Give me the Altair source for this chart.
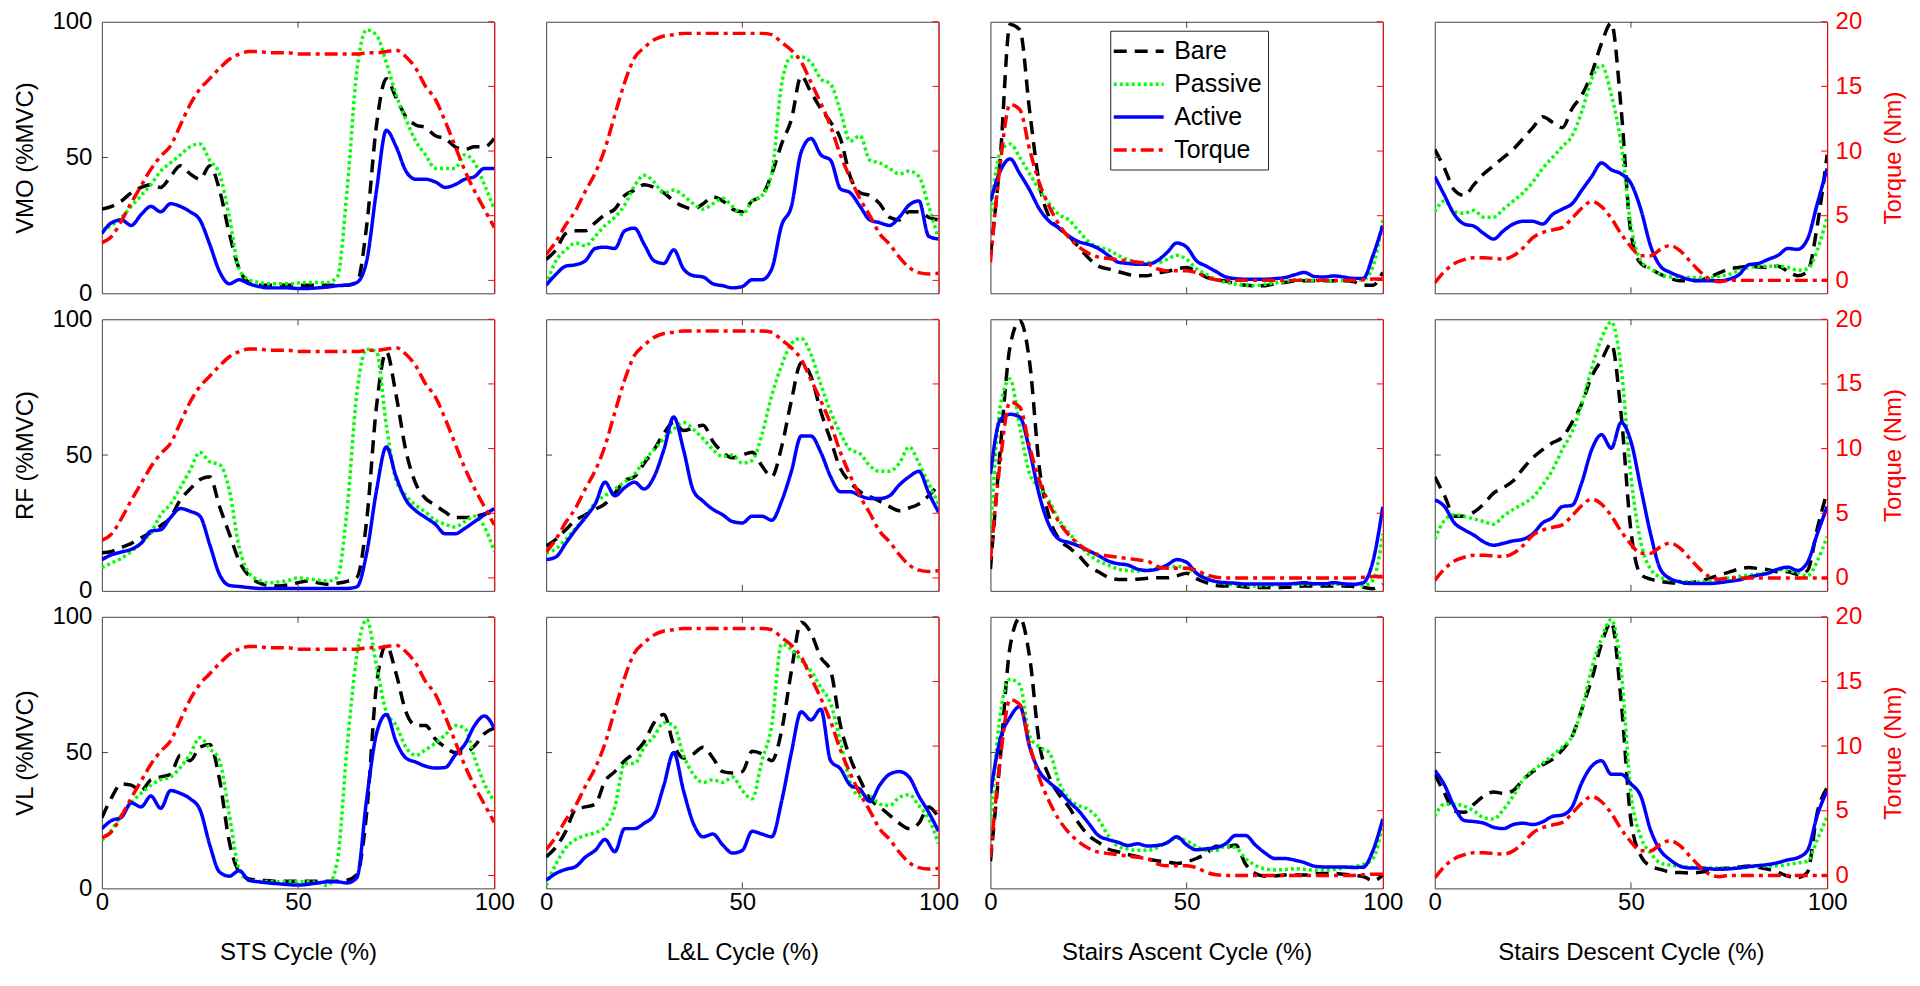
import altair as alt
import pandas as pd

# ---------------- data ----------------
x_pct = [0, 2.5, 5, 7.5, 10, 12.5, 15, 17.5, 20, 22.5, 25, 27.5, 30, 32.5, 35, 37.5, 40,
         42.5, 45, 47.5, 50, 52.5, 55, 57.5, 60, 62.5, 65, 67.5, 70, 72.5, 75, 77.5, 80,
         82.5, 85, 87.5, 90, 92.5, 95, 97.5, 100]

series_names = ["Bare", "Passive", "Active", "Torque"]
task_titles = ["STS Cycle (%)", "L&L Cycle (%)", "Stairs Ascent Cycle (%)", "Stairs Descent Cycle (%)"]
muscle_titles = ["VMO (%MVC)", "RF (%MVC)", "VL (%MVC)"]
left_ticks = [0, 50, 100]
right_ticks = [0, 5, 10, 15, 20]
x_ticks = [0, 50, 100]

# Torque (Nm), one curve per task
torque_sts = [2.9, 3.4, 4.6, 6, 7.3, 8.6, 9.6, 10.4, 12, 13.6, 14.8, 15.6, 16.4, 17.1, 17.5, 17.7, 17.7,
              17.6, 17.6, 17.6, 17.5, 17.5, 17.5, 17.5, 17.5, 17.5, 17.5, 17.6, 17.6, 17.7, 17.8, 17.3, 16.4,
              15, 14, 12.3, 10.4, 8.5, 6.9, 5.5, 4.1]
torque_ll = [2, 3, 4.3, 5.4, 6.9, 8.3, 10.2, 12.8, 15.3, 17.2, 18, 18.6, 18.9, 19, 19.1, 19.1, 19.1,
             19.1, 19.1, 19.1, 19.1, 19.1, 19.1, 19, 18.4, 17.8, 16.9, 15.3, 13.7, 11.9, 9.7, 7.9, 6.3,
             5, 3.6, 2.8, 1.8, 1, 0.6, 0.5, 0.55]
torque_sa = [1.4, 9, 13.6, 13.2, 10.1, 7.5, 5.7, 4.3, 3.3, 2.6, 2.1, 1.8, 1.7, 1.6, 1.5, 1.4, 1.3,
             0.9, 0.75, 0.75, 0.75, 0.6, 0.25, 0.05, 0, 0, 0, 0, 0, 0, 0, 0, 0,
             0, 0, 0, 0, 0, 0.05, 0.1, 0.1]
torque_sd = [-0.2, 0.7, 1.3, 1.6, 1.75, 1.75, 1.7, 1.65, 1.9, 2.5, 3.3, 3.7, 3.9, 4.1, 4.8, 5.6, 6.1,
             5.7, 4.8, 3.6, 2.6, 1.9, 1.9, 2.4, 2.7, 2.3, 1.5, 0.7, 0.1, -0.1, 0, 0, 0,
             0, 0, 0, 0, 0, 0, 0, 0]

# VMO
vmo_sts_bare = [31, 32, 34, 37, 39, 40, 39, 43, 47, 44, 42, 47, 38, 22, 9, 4, 3, 3, 3, 3, 3, 3, 3, 3, 3,
                3, 4, 25, 62, 79, 72, 65, 62, 61, 58, 57, 54, 53, 54, 54, 57]
vmo_sts_passive = [23.5, 25, 28, 32, 36, 40, 45, 48, 51, 54, 55, 49, 44, 28, 9, 5, 4, 3.5, 3.5, 3.5, 3.8,
                   4, 4, 4, 6, 38, 82, 97, 95, 85, 73, 64, 56, 51, 46, 46, 46, 51, 48, 40, 31]
vmo_sts_active = [22, 26, 27, 25, 29, 32, 30, 33, 32, 30, 27, 18, 8, 3.5, 5, 3.5, 2.5, 2, 2, 2, 1.8,
                  1.8, 2, 2.3, 2.8, 3, 4, 12, 38, 60, 54, 45, 42, 42, 41, 39, 40, 42, 43, 46, 46]
vmo_ll_bare = [12.5, 16, 22, 23, 23, 26, 29, 31, 36, 38, 40, 39, 37, 34, 32, 31, 33, 35.5, 34, 31, 30,
               34, 36, 44, 55, 64, 80, 74, 68, 63, 57, 43, 37, 36, 33, 28, 27, 30, 30, 28, 27]
vmo_ll_passive = [3, 12, 16, 18.5, 17.5, 21, 25, 28, 32.5, 39.5, 43.5, 41, 37, 38, 36, 33, 31, 33, 35, 32,
                  29, 34, 36, 44, 77, 87, 87, 85, 79, 77, 67, 56, 58, 49, 48, 46, 44, 45, 43, 32, 20]
vmo_ll_active = [3, 7, 10, 10.5, 12, 16.5, 17, 16.5, 23, 24, 18, 12, 11, 16, 9, 6.5, 6, 3.5, 2.8, 2, 2.5,
                 5, 5, 9, 25, 32, 52, 57, 51, 49, 38.5, 37, 32, 27, 26, 25, 28, 32.5, 34, 21, 20]
vmo_sa_bare = [14, 50, 99, 97, 67, 40, 28, 24, 21, 17, 13, 10, 9, 8, 7, 6.5, 6.5, 7.5, 8, 9, 9.5, 8, 6,
               5, 4.5, 3.5, 3, 2.8, 2.8, 3.5, 4, 4.5, 4.6, 4.6, 4.6, 4.6, 4.6, 4.3, 3, 3, 7.7]
vmo_sa_passive = [28, 52, 55, 50, 44, 38, 33, 29, 27, 23, 19, 17, 16, 14, 12.5, 11.5, 11.3, 11.3, 12.5,
                  14, 12.5, 9, 7, 5, 4, 3.4, 3, 2.8, 3.3, 3.8, 4.3, 5, 5, 4.7, 4.6, 4.6, 4.6, 4.8, 5, 10, 27]
vmo_sa_active = [34, 45, 49.5, 44, 38, 31, 26.5, 24, 21, 19, 18, 16.5, 14, 11.5, 11, 10.7, 10.7, 12, 15,
                 18.5, 17, 12, 10, 8, 6, 5.4, 5.2, 5.2, 5.2, 5.4, 5.8, 6.8, 7.7, 6.2, 6, 6.4, 6, 5.5,
                 5.5, 14, 25]
vmo_sd_bare = [53, 46, 38, 36, 40, 44, 47, 50, 53, 57, 61, 65, 63, 61, 68, 73, 81, 92, 99.5, 68, 22, 11, 9,
               7, 5.5, 4.6, 4.6, 4.8, 6, 7.5, 9, 9.5, 10, 9.7, 9.5, 10, 8, 6.5, 8, 25, 51]
vmo_sd_passive = [30, 34, 30, 29.5, 30.5, 28, 28, 31, 34, 37, 41, 46, 50, 54, 58, 67, 79, 84, 73, 55, 25,
                  12, 9, 7, 6, 5.8, 5.8, 5.8, 5.8, 6.3, 7, 8.3, 9.5, 10, 10, 10, 9.5, 8.5, 9, 16, 28]
vmo_sd_active = [43, 36, 29, 25.5, 24.7, 22, 20, 23, 25.5, 26.5, 26.5, 25.5, 29, 31, 33, 38, 43, 48,
                 45.5, 44, 40.5, 31, 17.5, 10, 7.7, 6.2, 5, 4.6, 4.6, 4.6, 5.2, 6.8, 10.5, 11, 12.5,
                 14, 16.5, 16.2, 20, 33, 46]

# RF
rf_sts_bare = [14, 14.5, 16, 17.5, 19.5, 21.5, 24, 27, 33.5, 37.5, 41, 42, 31, 21, 11, 5.5, 3, 2, 1.8,
               2.2, 3, 3.6, 3, 2.4, 2.8, 3.5, 5, 26, 68, 88, 72, 51.5, 39.5, 34, 31.5, 29, 27, 27,
               27.3, 28.3, 29]
rf_sts_passive = [8.5, 10.3, 12, 14.5, 17.5, 21.5, 28, 32, 38, 44.5, 51, 47.5, 46.5, 37, 16, 6.5, 4, 3,
                  3.3, 3.8, 4.8, 4.4, 4, 3.6, 5, 30, 73, 89, 88, 61, 40.6, 35, 31.5, 29, 26, 24.5,
                  23.5, 25.5, 27.5, 23.5, 14.5]
rf_sts_active = [11.5, 13.3, 14.3, 15.3, 17.5, 22, 22.5, 27, 30.3, 29.3, 27.5, 17, 6, 2, 1.6, 1.2, 0.9,
                 0.9, 0.9, 0.9, 0.9, 0.9, 0.9, 0.9, 0.9, 0.9, 1.5, 14, 37, 53, 42, 33.5, 29.5, 27,
                 24.5, 21, 21, 23, 25.5, 28, 30.3]
rf_ll_bare = [16.5, 19, 22.5, 26, 28, 30, 32, 36, 40.5, 42, 47, 52, 58, 62, 59, 60, 61, 55, 51, 49, 50,
              51, 46, 42, 53, 70, 84, 79, 66, 55.5, 45, 40, 36.5, 34.7, 33, 31, 29.5, 30.5, 32, 35, 39]
rf_ll_passive = [14, 15.5, 19, 23, 27.3, 32.5, 35, 37.5, 40, 43, 48, 52, 56, 59.5, 62, 59.5, 56, 52,
                 49.5, 50, 47, 48, 57.6, 72, 83, 91, 93, 87, 76, 66, 58, 52, 50.5, 46, 44, 44, 47, 53,
                 47, 39.5, 32]
rf_ll_active = [11.5, 12.5, 17.5, 22.5, 27, 32, 40, 35, 38, 40, 37.5, 42, 52, 64, 52, 37, 33, 30, 28,
                25.5, 25, 27.5, 27.5, 26, 33, 44, 57, 57, 51, 42, 36.5, 36.5, 35, 34, 34, 35, 39, 42,
                44, 36, 29]
rf_sa_bare = [8, 52, 90, 99.5, 84, 45, 27, 19, 16, 13, 9, 7, 5, 4.2, 4.2, 4.3, 4.6, 4.8, 4.8, 5.5, 6.5,
              4.5, 3, 2, 1.8, 1.8, 1.4, 1.2, 1.2, 1.2, 1.3, 1.5, 1.8, 1.8, 1.8, 1.8, 1.8, 1.6, 1.3,
              0.8, 2.4]
rf_sa_passive = [21, 68, 78, 60, 43, 38, 33, 26, 21.5, 17, 13.5, 11, 9.5, 8, 7.5, 7.3, 7.6, 8.2, 8.8,
                 9, 8.3, 6.5, 5, 3.3, 2.6, 2.2, 1.9, 1.8, 2, 2.2, 2.4, 2.4, 2.4, 2.4, 2.4, 2.4, 2.4,
                 2.4, 2, 4, 21]
rf_sa_active = [43, 63, 65, 64, 51.5, 35, 24, 19, 17.8, 16.5, 14.8, 13, 11, 10, 9.5, 8, 7.5, 8, 9.5,
                11.5, 10.5, 6.5, 4.5, 3.4, 3, 2.8, 2.5, 2.5, 2.5, 2.5, 2.5, 2.7, 3, 2.6, 2.6, 3, 2.6,
                2.4, 3, 11, 31]
rf_sd_bare = [42, 35, 27.5, 27.5, 29, 32, 36, 38, 40.5, 45, 49, 52, 54.5, 56.5, 62, 69, 79, 85, 91, 65,
              22, 6, 4.3, 3.5, 3, 2.8, 3, 3.5, 4.6, 5.8, 6.9, 8, 8.6, 8.2, 7.8, 7, 7, 6, 7.5, 23, 36.5]
rf_sd_passive = [19, 26, 28, 27.4, 26.5, 25.5, 24.5, 27.5, 30, 32, 34.5, 39, 44.5, 52, 58.5, 69, 82, 93,
                 99, 82, 42, 18, 8, 5, 4, 3.4, 3.3, 3.3, 3.6, 4.2, 4.7, 5.3, 5.8, 6.2, 6.8, 7.8, 7.5,
                 6.6, 5.5, 11, 20]
rf_sd_active = [33.5, 31, 25, 22.5, 20.5, 18, 16.8, 17.5, 18.4, 19, 21, 25, 27, 31, 31.5, 40, 52, 57.5,
                52.5, 62, 55, 38, 21, 8, 4.5, 3.3, 2.7, 2.7, 2.7, 3, 3.5, 4, 5, 5.8, 6.5, 8, 8.7, 7.5,
                10.5, 21, 31]

# VL
vl_sts_bare = [26, 33.5, 38.5, 38, 36, 40, 41, 42, 49, 47, 52, 53, 40, 17, 6, 3.5, 3, 2.8, 2.6, 2.6,
               2.6, 2.6, 2.6, 2.6, 2.6, 3, 5, 28, 75, 89.5, 79, 65, 60, 60, 55, 52, 50, 50, 52.5, 57, 59]
vl_sts_passive = [17.7, 21.5, 27, 31.5, 35, 38, 40, 41, 44.5, 49.5, 55.5, 51.5, 47, 27, 7, 3, 2.6, 2.5,
                  2.4, 2.4, 2.4, 2.4, 2.2, 1, 10, 52, 86, 99, 82, 65, 60, 52, 49, 51, 53.5, 56.5, 60,
                  59, 48, 38.5, 32]
vl_sts_active = [22, 25, 26.2, 31.5, 30, 34, 29.5, 36, 35, 33, 29, 16, 6, 4.5, 6.5, 3, 2.4, 2, 1.7, 1.4,
                 1.2, 1.5, 2, 2.4, 2.4, 2, 4, 33, 57, 64, 54, 48, 46.5, 45, 44.3, 44.5, 49, 53, 60,
                 63.5, 59]
vl_ll_bare = [11.6, 15.2, 21, 29, 30, 31, 39.5, 43, 47, 50, 54, 61, 64, 53, 48, 49.5, 52, 48, 43, 42.5,
              43, 50.5, 49.5, 47, 58, 80, 98, 94, 85, 80, 60, 48, 40, 33, 30, 27, 24, 22, 24, 30, 26]
vl_ll_passive = [1, 9, 15, 18, 19.5, 20.5, 22.5, 30, 46, 46, 52, 56, 61, 60, 49, 42, 39, 40, 39, 41, 36,
                 33, 47, 60, 90, 88, 84, 80, 74, 68, 54, 39, 34, 34, 31, 30.5, 33.5, 34.5, 30.5, 25.5,
                 16.5]
vl_ll_active = [3, 5.5, 7, 8, 11.5, 14, 18, 13.5, 22, 22, 24, 27, 38, 50, 36, 24, 19, 20, 16, 13, 14, 21,
                20, 19, 32, 50, 65, 62, 66, 47, 44, 38, 36.5, 32, 38, 42, 43, 41, 34, 28, 21]
vl_sa_bare = [10, 48, 89, 99.5, 85, 53, 41, 34.5, 30, 24, 19.5, 17, 14.5, 13.5, 12.5, 11.7, 10.8, 10.2,
              9.7, 9.2, 9.8, 11, 12.8, 15.5, 15.2, 16, 9, 5.5, 4.5, 4.6, 4.9, 4.9, 4.9, 5.3, 5.5, 5.5,
              5.2, 4.8, 4.4, 2.8, 4.9]
vl_sa_passive = [24, 64, 77, 75, 56, 52, 50, 39, 33, 30.5, 29, 25.5, 19.5, 15.5, 14.5, 14, 14, 15, 17,
                 18.5, 17.5, 15.5, 14, 14, 15.5, 15, 11, 8.5, 7.2, 6.8, 6.9, 7.2, 7, 6.7, 6.7, 6.9,
                 7.5, 8.1, 8.8, 11, 24]
vl_sa_active = [35, 55, 63, 67, 52, 43, 39, 36, 32, 28.5, 24, 19.5, 18, 17, 15.8, 16.4, 15.6, 15.8,
                16.8, 19, 16, 14.2, 14.6, 15, 16.5, 19.5, 19.5, 16, 13, 11, 11, 10.4, 9.5, 8.2, 7.9,
                7.9, 7.9, 7.7, 7.8, 14, 25.6]
vl_sd_bare = [42, 35, 28.5, 28, 31, 34, 35.5, 35, 36, 40, 43, 45.5, 47.5, 51, 56, 66, 77, 90, 98, 69,
              25, 12, 8.2, 7, 6, 5.8, 5.7, 5.9, 6.6, 7.2, 7.5, 7.9, 8.2, 7.8, 7, 5.9, 4.5, 4, 6, 28, 37]
vl_sd_passive = [26.5, 31, 31, 30.3, 28.5, 26, 25.5, 29, 34, 40, 43.5, 46, 49, 52, 56, 66, 81, 92, 99,
                 80, 35, 19, 13, 9.4, 8.6, 8.1, 7.8, 7.5, 7.5, 7.5, 7.5, 7.6, 7.8, 8.2, 8.2, 8.3, 8.8,
                 9.4, 10, 18, 26.4]
vl_sd_active = [43.5, 38, 30, 25, 24.6, 24, 22.5, 22, 23.5, 24, 23.5, 24.5, 26.5, 27, 30, 39, 45, 47,
                42, 42, 38.5, 34, 21.5, 14, 10.5, 8.2, 7.5, 7.5, 7.2, 7, 7.2, 7.5, 8, 8.4, 8.8, 9.5,
                10.5, 11.3, 14, 27, 36]

emg = [
    [(vmo_sts_bare, vmo_sts_passive, vmo_sts_active), (vmo_ll_bare, vmo_ll_passive, vmo_ll_active),
     (vmo_sa_bare, vmo_sa_passive, vmo_sa_active), (vmo_sd_bare, vmo_sd_passive, vmo_sd_active)],
    [(rf_sts_bare, rf_sts_passive, rf_sts_active), (rf_ll_bare, rf_ll_passive, rf_ll_active),
     (rf_sa_bare, rf_sa_passive, rf_sa_active), (rf_sd_bare, rf_sd_passive, rf_sd_active)],
    [(vl_sts_bare, vl_sts_passive, vl_sts_active), (vl_ll_bare, vl_ll_passive, vl_ll_active),
     (vl_sa_bare, vl_sa_passive, vl_sa_active), (vl_sd_bare, vl_sd_passive, vl_sd_active)],
]
torque = [torque_sts, torque_ll, torque_sa, torque_sd]

# ---------------- style ----------------
FONT = "Liberation Sans"
GRAY = "#404040"
RED = "#FF0000"
COLORS = ["#000000", "#00FF00", "#0000FF", "#FF0000"]
DASHES = [[13, 8], [3, 3], [1, 0], [13, 5, 4, 5]]
W, H = 393, 272
TICK = 6
FS = 24

color_scale = alt.Scale(domain=series_names, range=COLORS)
dash_scale = alt.Scale(domain=series_names, range=DASHES)
left_scale = alt.Scale(domain=[0, 100], nice=False, zero=False)
right_scale = alt.Scale(domain=[-1, 20], nice=False, zero=False)
x_scale = alt.Scale(domain=[0, 100], nice=False, zero=False)


def panel(r, c):
    rows = []
    for name, vals in zip(series_names[:3], emg[r][c]):
        for xv, yv in zip(x_pct, vals):
            rows.append({"x": xv, "v": yv, "series": name})
    df_e = pd.DataFrame(rows)
    df_t = pd.DataFrame({"x": x_pct, "v": torque[c], "series": ["Torque"] * len(x_pct)})

    bottom = r == 2
    if bottom:
        xaxis = alt.Axis(values=x_ticks, title=task_titles[c], labels=True, ticks=False, grid=False,
                         domain=False, labelFontSize=FS, titleFontSize=FS, labelFlush=False,
                         labelPadding=2, titlePadding=26, labelColor="black", titleColor="black",
                         titleFontWeight="normal")
    else:
        xaxis = None
    xenc = alt.X("x:Q", scale=x_scale, axis=xaxis)

    if c == 0:
        laxis = alt.Axis(orient="left", values=left_ticks, title=muscle_titles[r], ticks=False,
                         grid=False, domain=False, labelFontSize=FS, titleFontSize=FS,
                         labelPadding=10, titlePadding=14, labelColor="black",
                         titleColor="black", titleFontWeight="normal")
    else:
        laxis = None
    if c == 3:
        raxis = alt.Axis(orient="right", values=right_ticks, title="Torque (Nm)", ticks=False,
                         grid=False, domain=True, domainColor=RED, labelFontSize=FS,
                         titleFontSize=FS, labelPadding=8, titlePadding=20, labelColor=RED,
                         titleColor=RED, titleFontWeight="normal", titleAngle=270,
                         titleBaseline="top")
    else:
        raxis = alt.Axis(orient="right", values=right_ticks, title=None, ticks=False, labels=False,
                         grid=False, domain=True, domainColor=RED)

    if (r, c) == (0, 2):
        legend = alt.Legend(orient="none", legendX=120, legendY=9, title=None, direction="vertical",
                            labelFontSize=25, labelFont=FONT, labelColor="black",
                            symbolType="M-2,0H2", symbolSize=625, symbolStrokeWidth=3.5,
                            symbolOffset=8, symbolFillColor="transparent", strokeColor="#262626",
                            fillColor="white", padding=6, rowPadding=5, labelOffset=21)
    else:
        legend = None

    color = alt.Color("series:N", scale=color_scale, legend=legend)
    dash = alt.StrokeDash("series:N", scale=dash_scale, legend=legend)

    lines = alt.Chart(df_e).mark_line(strokeWidth=3.5, interpolate="monotone", strokeCap="butt",
                                      clip=True).encode(
        x=xenc, y=alt.Y("v:Q", scale=left_scale, axis=laxis), color=color, strokeDash=dash)

    ltick = alt.Chart(pd.DataFrame({"v": [50]})).mark_rule(color=GRAY, strokeWidth=1).encode(
        y=alt.Y("v:Q", scale=left_scale), x=alt.value(0), x2=alt.value(TICK))
    ttick = alt.Chart(pd.DataFrame({"x": [50]})).mark_rule(color=GRAY, strokeWidth=1).encode(
        x=alt.X("x:Q", scale=x_scale), y=alt.value(0), y2=alt.value(TICK))
    btick = alt.Chart(pd.DataFrame({"x": [50]})).mark_rule(color=GRAY, strokeWidth=1).encode(
        x=alt.X("x:Q", scale=x_scale), y=alt.value(H), y2=alt.value(H - TICK))

    tq = alt.Chart(df_t).mark_line(strokeWidth=3.5, interpolate="monotone", strokeCap="butt",
                                   clip=True).encode(
        x=alt.X("x:Q", scale=x_scale), y=alt.Y("v:Q", scale=right_scale, axis=raxis),
        color=color, strokeDash=dash)
    rtick = alt.Chart(pd.DataFrame({"v": right_ticks})).mark_rule(color=RED, strokeWidth=1).encode(
        y=alt.Y("v:Q", scale=right_scale), x=alt.value(W), x2=alt.value(W - TICK))

    left_layer = alt.layer(lines, ltick, ttick, btick)
    right_layer = alt.layer(tq, rtick)
    return alt.layer(left_layer, right_layer).resolve_scale(y="independent").properties(
        width=W, height=H)


panels = [panel(r, c) for r in range(3) for c in range(4)]

chart = alt.concat(*panels, columns=4, spacing={"row": 26, "column": 52}, bounds="flush").resolve_scale(
    color="independent", strokeDash="independent"
).properties(
    padding={"left": 5, "top": 0, "right": 5, "bottom": 5}
).configure(font=FONT).configure_view(stroke=GRAY, strokeWidth=1)

chart.save("out.html", embed_options={"renderer": "svg", "actions": False})
